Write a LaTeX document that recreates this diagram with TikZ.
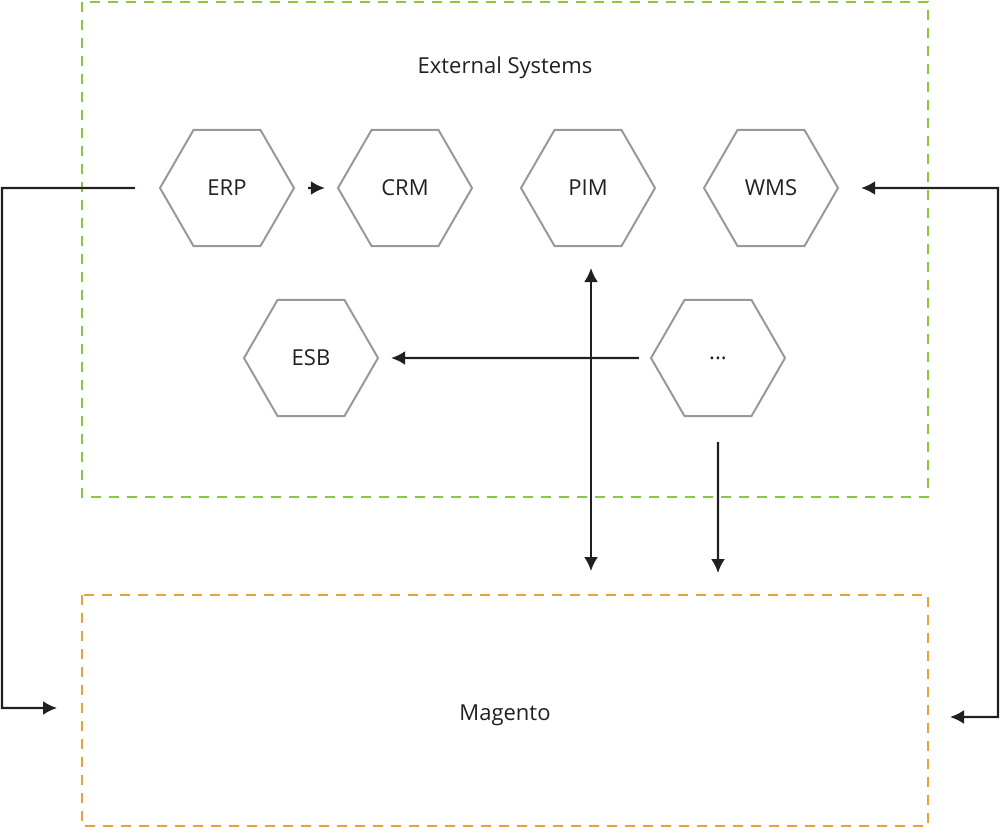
\documentclass[tikz,border=0pt]{standalone}
\usepackage{fontspec}
\setmainfont{Open Sans}
\usetikzlibrary{shapes.geometric,arrows.meta}
\definecolor{extgreen}{HTML}{8DC63F}
\definecolor{magorange}{HTML}{E8A23A}
\definecolor{hexgray}{HTML}{999999}
\definecolor{ink}{HTML}{231F20}
\tikzset{
  hexnode/.style={regular polygon, regular polygon sides=6, minimum size=134pt, inner sep=0pt,
    draw=hexgray, line width=2pt, text=ink, font=\fontsize{22}{26}\selectfont},
  groupbox/.style={dashed, dash pattern=on 10pt off 8pt, line width=2pt},
  conn/.style={draw=ink, line width=2.2pt, -{Latex[length=14pt,width=14pt]}},
  conn2/.style={draw=ink, line width=2.2pt, {Latex[length=14pt,width=14pt]}-{Latex[length=14pt,width=14pt]}},
  lbl/.style={text=ink, font=\fontsize{22}{26}\selectfont}
}
\begin{document}
\begin{tikzpicture}[x=1pt,y=-1pt]
\useasboundingbox (0,0) rectangle (1000,828);
\draw[groupbox, extgreen] (82,2) rectangle (928,497);
\draw[groupbox, magorange] (82,595) rectangle (928,826);
\node[lbl] (ext) at (505,68) {External Systems};
\node[lbl] (mag) at (505,715) {Magento};
\node[hexnode] (erp) at (227,188) {ERP};
\node[hexnode] (crm) at (405,188) {CRM};
\node[hexnode] (pim) at (588,188) {PIM};
\node[hexnode] (wms) at (771,188) {WMS};
\node[hexnode] (esb) at (311,358) {ESB};
\node[hexnode] (dots) at (718,358) {...};
\coordinate (l1) at (2,188);
\coordinate (magL) at (57,708);
\coordinate (r1) at (998,188);
\coordinate (magR) at (950,717);
\coordinate (pimB) at (591,571);
\coordinate (dotsB) at (718,573);
\draw[conn, shorten <=13pt, shorten >=12pt] (erp.east) -- (crm.west);
\draw[conn, shorten <=24pt] (erp.west) -- (l1) |- (magL);
\draw[conn2, shorten <=22pt] (wms.east) -- (r1) |- (magR);
\draw[conn2, shorten <=21pt] (pim.south -| pimB) -- (pimB);
\draw[conn, shorten <=11pt, shorten >=12pt] (dots.west) -- (esb.east);
\draw[conn, shorten <=25pt] (dots.south) -- (dotsB);
\end{tikzpicture}
\end{document}
